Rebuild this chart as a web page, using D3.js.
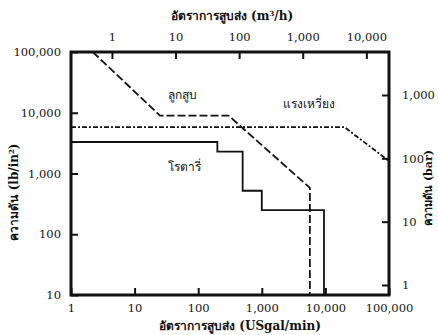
<!DOCTYPE html>
<html><head><meta charset="utf-8">
<script src="https://cdn.jsdelivr.net/npm/d3@7"></script>
<style>
body{margin:0;background:#fff}
text{font-family:"DejaVu Serif","Liberation Serif",serif;fill:#111}
</style>
</head><body><svg id="c" width="438" height="335"></svg>
<script>
// Pressure against flow rate: working envelopes of three pump types
const flowTicks = [1, 10, 100, 1000, 10000, 100000];   // USgal/min (bottom)
const flowTicksM3 = [1, 10, 100, 1000, 10000];         // m³/h (top)
const pressTicks = [10, 100, 1000, 10000, 100000];     // lb/in² (left)
const barTicks = [1, 10, 100, 1000];                   // bar (right)
const GPM_PER_M3H = 4.403;

// [flow USgal/min, pressure lb/in²]
const rotary = [[1,3300],[200,3300],[200,2300],[500,2300],[500,520],[1000,520],[1000,250],[9500,250],[9500,10]];
const reciprocating = [[2.2,100000],[25,9000],[300,9000],[5700,580],[5700,10]];
const centrifugal = [[1,5800],[20000,5800],[100000,1600]];

const labels = [
  {name:"ลูกสูบ", q:57, p:19000},
  {name:"แรงเหวี่ยง", q:5500, p:13500},
  {name:"โรตารี่", q:62, p:1250}
];

const svg = d3.select("#c");
const L = 71, R = 389, T = 52, B = 295;

const x = d3.scaleLog().domain([1, 100000]).range([L, R]);
const y = d3.scaleLog().domain([10, 100000]).range([B, T]);
const xTop = d3.scaleLog().domain([1/GPM_PER_M3H, 100000/GPM_PER_M3H]).range([L, R]);
const yBar = d3.scaleLog().domain([1, 1000]).range([285, 95]);

const fmt = d3.format(",");
const tickLen = 7;

// axes: ticks drawn inward, labels outside
const axB = d3.axisBottom(x).tickValues(flowTicks).tickFormat(fmt).tickSize(-tickLen).tickPadding(9);
const axT = d3.axisTop(xTop).tickValues(flowTicksM3).tickFormat(fmt).tickSize(-tickLen).tickPadding(11);
const axL = d3.axisLeft(y).tickValues(pressTicks).tickFormat(fmt).tickSize(-tickLen).tickPadding(10);
const axR = d3.axisRight(yBar).tickValues(barTicks).tickFormat(fmt).tickSize(-tickLen).tickPadding(13);

function styleAxis(g){
  g.select(".domain").remove();
  g.selectAll(".tick line").attr("stroke","#111").attr("stroke-width",2);
  g.selectAll(".tick text").attr("font-size",11.5).style("font-family","DejaVu Serif");
}
svg.append("g").attr("transform",`translate(0,${B})`).call(axB).call(styleAxis);
svg.append("g").attr("transform",`translate(0,${T})`).call(axT).call(styleAxis);
svg.append("g").attr("transform",`translate(${L},0)`).call(axL).call(styleAxis);
svg.append("g").attr("transform",`translate(${R},0)`).call(axR).call(styleAxis);

// frame
svg.append("rect").attr("x",L).attr("y",T).attr("width",R-L).attr("height",B-T)
  .attr("fill","none").attr("stroke","#111").attr("stroke-width",3);

const line = d3.line().x(d => x(d[0])).y(d => y(d[1]));
const g = svg.append("g").attr("fill","none").attr("stroke","#111").attr("stroke-width",1.8);
g.append("path").datum(rotary).attr("d", line);
g.append("path").datum(reciprocating).attr("d", line).attr("stroke-dasharray","8,3");
g.append("path").datum(centrifugal).attr("d", line).attr("stroke-dasharray","5,2,2,2");

svg.selectAll(".lbl").data(labels).join("text").attr("class","lbl")
  .attr("x", d => x(d.q)).attr("y", d => y(d.p))
  .attr("text-anchor","middle").attr("dominant-baseline","middle")
  .attr("font-size",12).text(d => d.name);

// axis titles
svg.append("text").attr("x",232).attr("y",20).attr("text-anchor","middle")
  .attr("font-size",12).attr("font-weight","bold")
  .html('อัตราการสูบส่ง (m<tspan dy="-4" font-size="7">3</tspan><tspan dy="4">/h)</tspan>');
svg.append("text").attr("x",240).attr("y",330).attr("text-anchor","middle")
  .attr("font-size",12).attr("font-weight","bold").text("อัตราการสูบส่ง (USgal/min)");
svg.append("text").attr("transform","translate(18,192) rotate(-90)").attr("text-anchor","middle")
  .attr("font-size",12).attr("font-weight","bold")
  .html('ความดัน (lb/in<tspan dy="-4" font-size="7">2</tspan><tspan dy="4">)</tspan>');
svg.append("text").attr("transform","translate(432,188) rotate(-90)").attr("text-anchor","middle")
  .attr("font-size",11).attr("font-weight","bold").text("ความดัน (bar)");
</script>
</body></html>
